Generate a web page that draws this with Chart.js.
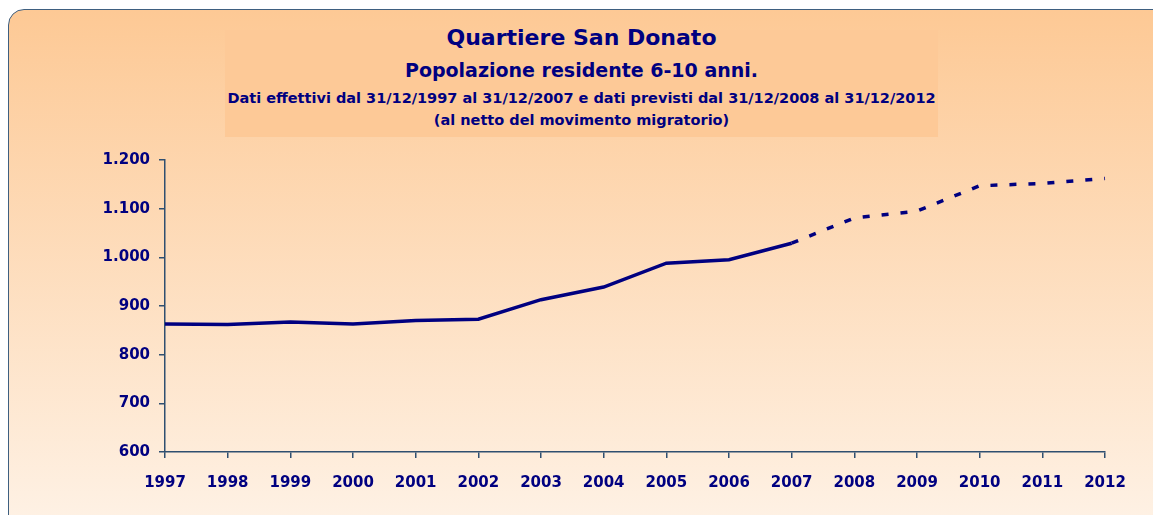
<!DOCTYPE html>
<html>
<head>
<meta charset="utf-8">
<script src="https://cdn.jsdelivr.net/npm/chart.js@4"></script>
<style>
    body {
        margin: 0;
        background: #ffffff;
        overflow: hidden;
    }

    .frame {
        position: absolute;
        left: 8px;
        top: 9px;
        width: 1170px;
        height: 530px;
        border: 1.5px solid #3e5f80;
        border-radius: 16px;
        background: linear-gradient(to bottom, #fdc995 0%, #fef1e4 96%);
    }

    .title-box {
        position: absolute;
        left: 225px;
        top: 30px;
        width: 713px;
        height: 107px;
        background: #fdc997;
        color: #000080;
        font-family: "DejaVu Sans", sans-serif;
        font-weight: bold;
        text-align: center;
    }

    .title-box div {
        position: absolute;
        left: 0;
        right: 0;
        white-space: nowrap;
    }

    .t1 { top: -5px; font-size: 22px; }
    .t2 { top: 29px; font-size: 19px; }
    .t3 { top: 60px; font-size: 14.5px; }
    .t4 { top: 82px; font-size: 14.5px; }

    #chart {
        position: absolute;
        left: 0;
        top: 0;
    }
</style>
</head>
<body>
<div class="frame"></div>
<div class="title-box">
    <div class="t1">Quartiere San Donato</div>
    <div class="t2">Popolazione residente 6-10 anni.</div>
    <div class="t3">Dati effettivi dal 31/12/1997 al 31/12/2007 e dati previsti dal 31/12/2008 al 31/12/2012</div>
    <div class="t4">(al netto del movimento migratorio)</div>
</div>
<canvas id="chart" width="1153" height="515"></canvas>

<script>
// Years on the x axis
const years = ['1997', '1998', '1999', '2000', '2001', '2002', '2003', '2004',
               '2005', '2006', '2007', '2008', '2009', '2010', '2011', '2012'];

// Actual residents 1997-2007
const actualValues = [863, 862, 867, 863, 870, 873, 913, 939, 988, 995, 1029];

// Forecast residents 2008-2012
const forecastValues = [1081, 1095, 1147, 1152, 1162];

// y axis range
const yMin = 600;
const yMax = 1200;
const yStep = 100;

const navy = '#000080';
const axisColor = '#2f4f70';

// forecast line starts from the last actual point so the dashes join up
const forecastSeries = years.map(function(y, i) {
    if (i < actualValues.length - 1) return null;
    if (i === actualValues.length - 1) return actualValues[i];
    return forecastValues[i - actualValues.length];
});

function formatThousands(v) {
    return String(v).replace(/\B(?=(\d{3})+(?!\d))/g, '.');
}

const tickFont = { family: '"DejaVu Sans", sans-serif', size: 15, weight: 'bold' };

new Chart(document.getElementById('chart'), {
    type: 'line',
    data: {
        labels: years,
        datasets: [{
            label: 'Dati effettivi',
            data: actualValues,
            borderColor: navy,
            borderWidth: 3.5,
            pointRadius: 0,
            tension: 0,
            fill: false
        }, {
            label: 'Dati previsti',
            data: forecastSeries,
            borderColor: navy,
            borderWidth: 3.5,
            borderDash: [7, 12],
            pointRadius: 0,
            tension: 0,
            fill: false
        }]
    },
    options: {
        responsive: false,
        animation: false,
        layout: {
            padding: { top: 160, right: 48, left: 0, bottom: 0 }
        },
        plugins: {
            legend: { display: false },
            tooltip: { enabled: false }
        },
        scales: {
            x: {
                offset: false,
                grid: {
                    drawOnChartArea: false,
                    drawTicks: true,
                    tickLength: 6,
                    color: axisColor,
                    lineWidth: 1.5
                },
                border: { color: axisColor, width: 1.5 },
                ticks: {
                    color: navy,
                    font: tickFont,
                    padding: 16,
                    maxRotation: 0,
                    autoSkip: false
                },
                afterFit: function(scale) {
                    scale.height = 63;
                    scale.paddingLeft = 0;
                    scale.paddingRight = 0;
                }
            },
            y: {
                min: yMin,
                max: yMax,
                grid: {
                    drawOnChartArea: false,
                    drawTicks: true,
                    tickLength: 6,
                    color: axisColor,
                    lineWidth: 1.5
                },
                border: { color: axisColor, width: 1.5 },
                ticks: {
                    stepSize: yStep,
                    color: navy,
                    font: tickFont,
                    padding: 9,
                    callback: function(value) {
                        return formatThousands(value);
                    }
                },
                afterFit: function(scale) {
                    scale.width = 165;
                }
            }
        }
    }
});
</script>
</body>
</html>
